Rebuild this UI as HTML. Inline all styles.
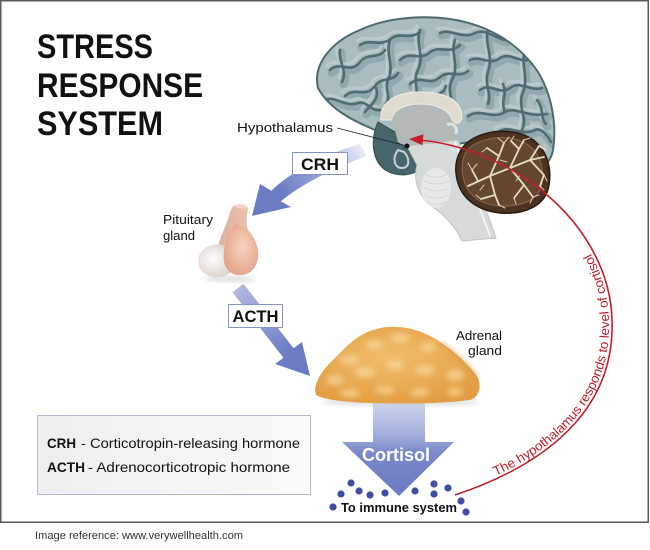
<!DOCTYPE html>
<html><head><meta charset="utf-8"><style>
html,body{margin:0;padding:0;background:#fff;width:650px;height:550px;overflow:hidden}
svg{display:block}
text{font-family:"Liberation Sans",sans-serif}
</style></head><body>
<svg width="650" height="550" viewBox="0 0 650 550" xmlns="http://www.w3.org/2000/svg">
<defs>
  <linearGradient id="crhG" gradientUnits="userSpaceOnUse" x1="365" y1="148" x2="285" y2="198">
    <stop offset="0" stop-color="#7282c8" stop-opacity="0.12"/>
    <stop offset="0.5" stop-color="#7282c8" stop-opacity="0.7"/>
    <stop offset="1" stop-color="#6b7cc4" stop-opacity="1"/>
  </linearGradient>
  <linearGradient id="acthG" gradientUnits="userSpaceOnUse" x1="238" y1="286" x2="290" y2="352">
    <stop offset="0" stop-color="#7282c8" stop-opacity="0.55"/>
    <stop offset="1" stop-color="#6b7cc4" stop-opacity="1"/>
  </linearGradient>
  <linearGradient id="cortG" gradientUnits="userSpaceOnUse" x1="0" y1="385" x2="0" y2="496">
    <stop offset="0" stop-color="#e6e9f6"/>
    <stop offset="0.45" stop-color="#a3afdc"/>
    <stop offset="0.6" stop-color="#7a8aca"/>
    <stop offset="1" stop-color="#6a7bc2"/>
  </linearGradient>
  <linearGradient id="legG" x1="0" y1="0" x2="1" y2="0">
    <stop offset="0" stop-color="#eeeeee"/>
    <stop offset="1" stop-color="#fafafa"/>
  </linearGradient>
  <radialGradient id="adrG" cx="0.45" cy="0.4" r="0.65">
    <stop offset="0" stop-color="#f0bd6a"/>
    <stop offset="1" stop-color="#e39d42"/>
  </radialGradient>
  <radialGradient id="pinkG" cx="0.55" cy="0.45" r="0.6">
    <stop offset="0" stop-color="#f7d3bf"/>
    <stop offset="1" stop-color="#e3a287"/>
  </radialGradient>
  <radialGradient id="whiteG" cx="0.4" cy="0.45" r="0.65">
    <stop offset="0" stop-color="#ffffff"/>
    <stop offset="1" stop-color="#d6ccc4"/>
  </radialGradient>
  <linearGradient id="stalkG" x1="0" y1="0" x2="1" y2="0">
    <stop offset="0" stop-color="#d9b2a0"/>
    <stop offset="1" stop-color="#efc2ab"/>
  </linearGradient>
  <filter id="blur3"><feGaussianBlur stdDeviation="3"/></filter>
  <filter id="blur2"><feGaussianBlur stdDeviation="2"/></filter>
  <clipPath id="adrClip">
    <path d="M315,390 C316,380 322,370 335,358 C348,345 360,330 387,327 C400,326 420,328 440,342 C455,352 470,365 478,378 C482,388 478,398 470,400 C440,404 400,404 370,403 C345,402 325,400 316,395 Z"/>
  </clipPath>
  <clipPath id="cerClip">
    <path d="M318,88 C312,62 335,40 360,30 C385,18 420,15 450,19 C490,25 520,45 538,72 C552,95 557,125 553,150 C551,160 547,165 540,166 L470,142 L420,150 L380,132 C355,122 330,110 318,88 Z"/>
  </clipPath>
  <path id="fb" d="M455,495 C560,460 615,400 612,320 C610,230 520,150 420,140"/>
  <g id="gyri">
    <path d="M330,70 C340,60 350,75 360,62 C368,52 378,60 385,50"/>
    <path d="M345,96 C355,86 365,99 375,86 C382,76 392,83 398,73"/>
    <path d="M360,45 C370,38 380,48 392,38 C400,32 410,40 420,32"/>
    <path d="M400,60 C410,50 420,62 430,52 C440,45 450,55 460,45"/>
    <path d="M410,84 C420,74 430,87 440,77 C450,69 458,79 468,71"/>
    <path d="M440,33 C450,28 462,40 475,33 C485,28 495,38 505,40"/>
    <path d="M470,60 C480,55 490,66 500,58 C510,52 518,62 528,60"/>
    <path d="M480,90 C490,82 500,96 510,88 C520,80 530,92 542,88"/>
    <path d="M468,116 C480,108 492,120 505,112 C515,106 527,118 547,114"/>
    <path d="M498,132 C510,124 520,137 535,130 C542,127 548,137 551,142"/>
    <path d="M325,100 C335,95 345,108 358,103 C366,100 372,112 380,110"/>
    <path d="M420,30 C415,45 425,55 418,70 C412,82 420,90 415,100"/>
    <path d="M455,40 C450,55 460,65 452,80 C446,92 455,100 450,110"/>
    <path d="M390,40 C385,55 395,65 388,80 C384,90 392,96 386,104"/>
    <path d="M525,50 C520,65 530,78 522,95 C518,108 528,118 522,130"/>
    <path d="M340,50 C338,62 348,70 342,82"/>
    <path d="M488,30 C484,45 494,55 488,72 C484,84 492,94 488,104"/>
    <path d="M365,112 C372,104 380,98 376,88"/>
    <path d="M505,112 C500,100 508,95 503,84"/>
    <path d="M432,100 C436,92 444,95 446,86"/>
    <path d="M537,100 C544,108 540,118 546,124"/>
  </g>
</defs>

<!-- frame -->
<rect x="0.75" y="0.75" width="647.5" height="521.5" fill="#fff" stroke="#5a5a5a" stroke-width="1.5"/>

<!-- Title -->
<text x="37" y="58" font-size="34" font-weight="bold" fill="#111" textLength="116" lengthAdjust="spacingAndGlyphs">STRESS</text>
<text x="37" y="97" font-size="34" font-weight="bold" fill="#111" textLength="166" lengthAdjust="spacingAndGlyphs">RESPONSE</text>
<text x="37" y="135" font-size="34" font-weight="bold" fill="#111" textLength="126" lengthAdjust="spacingAndGlyphs">SYSTEM</text>

<!-- ===== Brain ===== -->
<path d="M318,88 C312,62 335,40 360,30 C385,18 420,15 450,19 C490,25 520,45 538,72 C552,95 557,125 553,150 C551,160 547,165 540,166 L470,142 L420,150 L380,132 C355,122 330,110 318,88 Z" fill="#a9bcbf"/>
<g clip-path="url(#cerClip)">
  <g fill="none" stroke="#8aa2a6" stroke-width="8" stroke-linecap="round" stroke-linejoin="round" opacity="0.75" transform="translate(1.5,2.5)"><use href="#gyri"/></g>
  <g fill="none" stroke="#c4d2d3" stroke-width="3" stroke-linecap="round" opacity="0.7" transform="translate(-3,-4)"><use href="#gyri"/></g>
  <g fill="none" stroke="#4f6c71" stroke-width="2.6" stroke-linecap="round" stroke-linejoin="round"><use href="#gyri"/></g>
</g>
<path d="M318,88 C312,62 335,40 360,30 C385,18 420,15 450,19 C490,25 520,45 538,72 C552,95 557,125 553,150 C551,160 547,165 540,166 L470,142 L420,150 L380,132 C355,122 330,110 318,88 Z" fill="none" stroke="#4e6a6e" stroke-width="2"/>
<!-- dark temporal region -->
<path d="M378,122 C370,140 372,160 385,170 C398,178 415,176 426,165 L432,148 L405,138 Z" fill="#46666b" stroke="#34504f" stroke-width="1"/>
<path d="M398,150 C392,158 394,168 402,168 C410,168 410,158 404,152 Z" fill="none" stroke="#c9d0cf" stroke-width="2"/>
<!-- corpus callosum -->
<path d="M381,120 C379,101 398,92 420,92 C445,92 461,100 462,116 C462,124 455,126 452,119 C448,109 435,104 420,104 C405,104 394,109 392,120 Z" fill="#e0dbcf" stroke="#f2efe8" stroke-width="1"/>
<!-- thalamus -->
<path d="M392,120 C394,109 405,105 420,105 C435,105 447,109 451,119 L456,142 L410,149 L398,142 Z" fill="#b3b8b9"/>
<path d="M447,125 C452,122 458,126 456,134" fill="none" stroke="#e4e2dc" stroke-width="3"/>
<!-- brainstem -->
<path d="M407,146 L458,140 C470,170 485,205 496,238 L462,241 C455,226 445,215 430,205 C418,195 413,180 417,165 Z" fill="#d7dada" stroke="#bfc4c4" stroke-width="1"/>
<ellipse cx="436" cy="188" rx="15" ry="20" fill="#e7e9e7"/>
<g stroke="#cdd2d1" stroke-width="0.8" fill="none">
  <path d="M425,174 C432,178 440,178 448,174"/><path d="M424,181 C432,185 440,185 449,181"/><path d="M424,188 C432,192 440,192 449,188"/><path d="M425,195 C432,199 440,199 448,195"/><path d="M427,202 C433,205 440,205 446,202"/>
</g>
<path d="M455,142 L490,236" stroke="#f5f6f6" stroke-width="2"/>
<!-- cerebellum -->
<path d="M461,150 C470,134 500,127 521,134 C541,140 553,160 549,185 C546,205 526,215 500,213 C480,211 465,201 459,186 C454,172 455,160 461,150 Z" fill="#4b3221" stroke="#2a1b10" stroke-width="1.5"/>
<path d="M466,152 C474,140 500,134 518,140 C536,146 545,162 542,183 C539,200 522,207 500,206 C482,205 470,197 465,184 C461,172 461,161 466,152 Z" fill="#654630" stroke="#8a6a4c" stroke-width="1"/>
<g fill="none" stroke="#e7dcc4" stroke-width="1.8" stroke-linecap="round" stroke-linejoin="round">
  <path d="M468,186 L490,176 L510,168 L530,160 L544,157"/>
  <path d="M490,176 L499,156 L504,143"/>
  <path d="M490,176 L495,195 L499,205"/>
  <path d="M510,168 L519,149 L524,140"/>
  <path d="M510,168 L524,185 L533,197"/>
  <path d="M530,160 L539,146"/>
  <path d="M530,160 L544,175"/>
  <path d="M499,156 L487,148"/>
  <path d="M519,149 L511,141"/>
  <path d="M524,185 L514,198"/>
  <path d="M495,195 L481,199"/>
  <path d="M478,181 L472,170"/>
  <path d="M539,146 L546,150"/>
  <path d="M544,175 L540,186"/>
</g>
<g fill="none" stroke="#dccfb4" stroke-width="1" stroke-linecap="round">
  <path d="M504,143 L498,138"/><path d="M504,143 L509,137"/><path d="M524,140 L530,138"/>
  <path d="M499,205 L505,208"/><path d="M533,197 L539,195"/><path d="M533,197 L530,203"/>
  <path d="M472,170 L468,163"/><path d="M472,170 L477,164"/><path d="M481,199 L476,195"/>
  <path d="M487,148 L482,152"/><path d="M511,141 L514,136"/><path d="M544,175 L547,181"/>
  <path d="M514,198 L516,204"/><path d="M540,186 L544,190"/><path d="M546,150 L544,144"/>
  <path d="M500,160 L507,162"/><path d="M520,175 L516,181"/><path d="M484,185 L480,190"/>
</g>

<!-- hypothalamus label + leader -->
<text x="237" y="132" font-size="13" fill="#111" textLength="96" lengthAdjust="spacingAndGlyphs">Hypothalamus</text>
<line x1="337" y1="128" x2="407" y2="146" stroke="#222" stroke-width="0.8"/>
<circle cx="407" cy="146" r="2.5" fill="#111"/>

<!-- CRH arrow -->
<path d="M359.7,143.8 Q300,163 271.3,190.8 L260,184 L252,216 L291,207 L280.7,201.2 Q312,176 366.3,156.2 Z" fill="url(#crhG)"/>
<rect x="292.5" y="152.5" width="55" height="22" fill="#fff" stroke="#8793c6" stroke-width="1"/>
<text x="320" y="170" font-size="17" font-weight="bold" fill="#111" text-anchor="middle" textLength="38" lengthAdjust="spacingAndGlyphs">CRH</text>

<!-- Pituitary -->
<text x="163" y="224" font-size="12.5" fill="#111" textLength="50" lengthAdjust="spacingAndGlyphs">Pituitary</text>
<text x="163" y="240" font-size="12.5" fill="#111" textLength="32" lengthAdjust="spacingAndGlyphs">gland</text>
<ellipse cx="230" cy="279" rx="26" ry="3" fill="#ccc" opacity="0.6" filter="url(#blur2)"/>
<path d="M233,206 C238,203 246,204 248,208 C246,218 246,228 250,236 L232,250 L218,246 C222,232 228,222 230,212 Z" fill="url(#stalkG)"/>
<path d="M233,206 C238,203 246,204 248,208 C244,209 238,209 233,206 Z" fill="#f3d4c4"/>
<ellipse cx="217" cy="261" rx="19" ry="16.5" fill="url(#whiteG)"/>
<path d="M236,224 C250,226 260,244 258,258 C256,270 248,276 238,275 C228,274 222,265 224,252 C225,240 230,228 236,224 Z" fill="url(#pinkG)"/>

<!-- ACTH arrow -->
<path d="M243.5,283.7 L293.6,348.2 L302,342 L310,376 L275,364 L283.4,357.8 L232.5,292.3 Z" fill="url(#acthG)"/>
<rect x="228.5" y="304.5" width="54" height="23" fill="#fff" stroke="#8793c6" stroke-width="1"/>
<text x="255.5" y="322" font-size="17" font-weight="bold" fill="#111" text-anchor="middle" textLength="46" lengthAdjust="spacingAndGlyphs">ACTH</text>

<!-- Cortisol arrow -->
<path d="M373,385 L425,385 L425,442 L454,442 L399,496 L342,442 L373,442 Z" fill="url(#cortG)"/>
<text x="396" y="461" font-size="18" font-weight="bold" fill="#fff" text-anchor="middle" textLength="68" lengthAdjust="spacingAndGlyphs">Cortisol</text>

<!-- Adrenal gland -->
<ellipse cx="400" cy="402" rx="80" ry="4" fill="#cfcfcf" opacity="0.6" filter="url(#blur2)"/>
<path d="M315,390 C316,380 322,370 335,358 C348,345 360,330 387,327 C400,326 420,328 440,342 C455,352 470,365 478,378 C482,388 478,398 470,400 C440,404 400,404 370,403 C345,402 325,400 316,395 Z" fill="url(#adrG)"/>
<g clip-path="url(#adrClip)" filter="url(#blur3)" fill="#f8d598" opacity="0.75">
  <ellipse cx="350" cy="360" rx="10" ry="5"/>
  <ellipse cx="375" cy="345" rx="9" ry="5"/>
  <ellipse cx="400" cy="338" rx="10" ry="5"/>
  <ellipse cx="428" cy="347" rx="8" ry="5"/>
  <ellipse cx="335" cy="380" rx="9" ry="5"/>
  <ellipse cx="365" cy="372" rx="11" ry="5"/>
  <ellipse cx="395" cy="365" rx="9" ry="5"/>
  <ellipse cx="425" cy="370" rx="10" ry="5"/>
  <ellipse cx="455" cy="375" rx="9" ry="6"/>
  <ellipse cx="350" cy="393" rx="10" ry="4"/>
  <ellipse cx="385" cy="390" rx="10" ry="4"/>
  <ellipse cx="420" cy="392" rx="10" ry="4"/>
  <ellipse cx="455" cy="392" rx="8" ry="4"/>
</g>
<path d="M440,342 C455,352 470,365 478,378" fill="none" stroke="#d8903a" stroke-width="3" opacity="0.5" filter="url(#blur2)"/>
<text x="502" y="340" font-size="13" fill="#111" text-anchor="end" textLength="46" lengthAdjust="spacingAndGlyphs">Adrenal</text>
<text x="502" y="355" font-size="13" fill="#111" text-anchor="end" textLength="34" lengthAdjust="spacingAndGlyphs">gland</text>

<!-- dots -->
<g fill="#3d4fa2">
  <circle cx="351" cy="483" r="3.6"/><circle cx="359" cy="491" r="3.6"/><circle cx="370" cy="495" r="3.6"/>
  <circle cx="385" cy="493" r="3.6"/><circle cx="341" cy="494" r="3.6"/><circle cx="333" cy="507" r="3.6"/>
  <circle cx="415" cy="491" r="3.6"/><circle cx="434" cy="484" r="3.6"/><circle cx="434" cy="494" r="3.6"/>
  <circle cx="448" cy="488" r="3.6"/><circle cx="461" cy="501" r="3.6"/><circle cx="466" cy="512" r="3.6"/>
</g>
<text x="341" y="512" font-size="13" font-weight="bold" fill="#111" textLength="116" lengthAdjust="spacingAndGlyphs">To immune system</text>

<!-- Legend -->
<rect x="37.5" y="415.5" width="273" height="79" fill="url(#legG)" stroke="#b2b8cf" stroke-width="1"/>
<text x="47" y="448" font-size="14" font-weight="bold" fill="#111" textLength="29" lengthAdjust="spacingAndGlyphs">CRH</text>
<text x="81" y="448" font-size="14" fill="#111" textLength="219" lengthAdjust="spacingAndGlyphs">- Corticotropin-releasing hormone</text>
<text x="47" y="472" font-size="14" font-weight="bold" fill="#111" textLength="38" lengthAdjust="spacingAndGlyphs">ACTH</text>
<text x="88" y="472" font-size="14" fill="#111" textLength="202" lengthAdjust="spacingAndGlyphs">- Adrenocorticotropic hormone</text>

<!-- Red feedback curve -->
<use href="#fb" fill="none" stroke="#c21f2a" stroke-width="1.6"/>
<polygon points="409,139 423.4,134.2 422.4,145.2" fill="#c21f2a"/>
<text font-size="13" fill="#b8202a" dy="-3"><textPath href="#fb" startOffset="45" textLength="280" lengthAdjust="spacingAndGlyphs">The hypothalamus responds to level of cortisol</textPath></text>

<!-- caption -->
<text x="35" y="539" font-size="11" fill="#333" textLength="208" lengthAdjust="spacingAndGlyphs">Image reference: www.verywellhealth.com</text>
</svg>
</body></html>
